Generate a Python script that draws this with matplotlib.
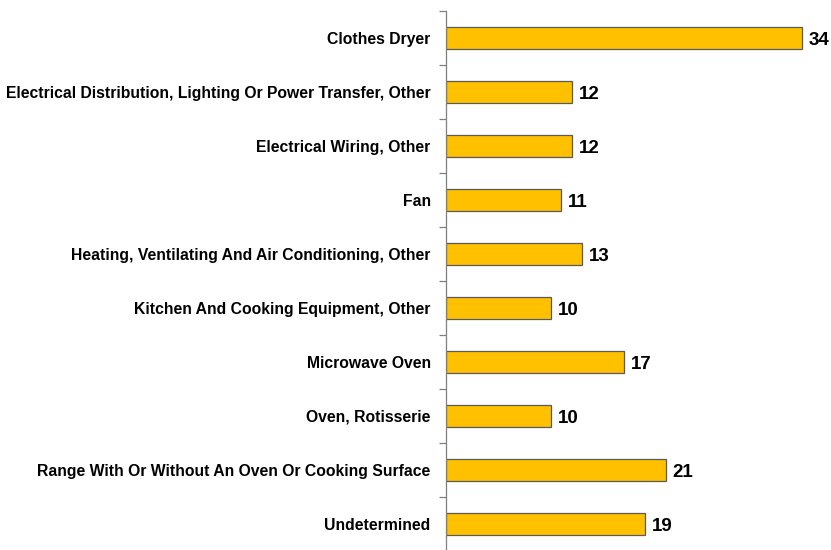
import matplotlib
matplotlib.use("Agg")
import matplotlib.pyplot as plt

categories = [
    "Clothes Dryer",
    "Electrical Distribution, Lighting Or Power Transfer, Other",
    "Electrical Wiring, Other",
    "Fan",
    "Heating, Ventilating And Air Conditioning, Other",
    "Kitchen And Cooking Equipment, Other",
    "Microwave Oven",
    "Oven, Rotisserie",
    "Range With Or Without An Oven Or Cooking Surface",
    "Undetermined",
]
counts = [34, 12, 12, 11, 13, 10, 17, 10, 21, 19]

W, H = 831, 550
fig = plt.figure(figsize=(W / 100, H / 100), dpi=100)
ax_left = 446 / W
ax_top = 11 / H
ax_bottom = 551 / H
ax = fig.add_axes([ax_left, 1 - ax_bottom, 1 - ax_left, ax_bottom - ax_top])

n = len(categories)
ypos = list(range(n))
ax.barh(ypos, counts, height=0.41, color="#FFC000", edgecolor="#5a5a5a", linewidth=0.9, zorder=2)

for y, v in zip(ypos, counts):
    ax.annotate(str(v), xy=(v, y), xytext=(5, -1.5), textcoords="offset points",
                ha="left", va="center", fontsize=13.5, fontweight="bold",
                family="Liberation Sans", color="#000000")

ax.set_ylim(n - 0.5, -0.5)
ax.set_xlim(0, 36.8)
ax.set_yticks(ypos)
ax.set_yticklabels(categories, fontsize=11.35, fontweight="bold", family="Liberation Sans")
ax.set_yticks([i - 0.5 for i in range(n + 1)], minor=True)
ax.tick_params(axis="y", which="major", length=0, pad=11)
ax.tick_params(axis="y", which="minor", length=5, width=0.9, color="#7f7f7f", direction="out")
ax.set_xticks([])
for side in ("top", "right", "bottom"):
    ax.spines[side].set_visible(False)
ax.spines["left"].set_color("#7f7f7f")
ax.spines["left"].set_linewidth(0.9)

fig.savefig("out.png", dpi=100)
